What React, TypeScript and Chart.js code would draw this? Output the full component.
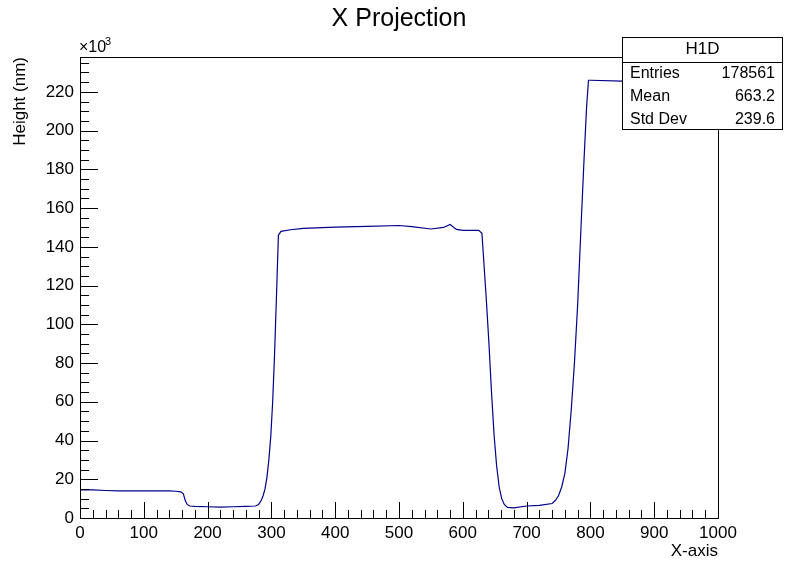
import React, { useEffect, useRef } from "react";
import { Chart, registerables } from "chart.js";
Chart.register(...registerables);

const xs = [0, 20, 40, 60, 100, 140, 150, 158, 162, 165, 168, 172, 180, 200, 220, 240, 260, 275, 280, 284, 287, 290, 293, 296, 299, 302, 305, 308, 311, 315, 330, 350, 400, 450, 500, 520, 550, 570, 580, 590, 600, 625, 630, 633, 637, 641, 645, 649, 653, 657, 661, 665, 670, 680, 700, 720, 740, 745, 750, 755, 760, 765, 770, 775, 780, 785, 790, 794, 797, 800, 850, 900, 1000];
const ys = [14.5, 14.5, 14.2, 14, 14, 14, 13.8, 13.5, 12.5, 9, 7, 6.2, 6, 5.8, 5.6, 5.8, 6, 6.2, 7, 9, 11.5, 15, 21, 30, 42, 60, 85, 115, 146, 148, 148.8, 149.5, 150.2, 150.6, 151, 150.4, 149.2, 150, 151.5, 149, 148.5, 148.5, 147, 132, 112, 90, 65, 43, 27, 16, 10, 7, 5.5, 5.2, 6.2, 6.5, 7.5, 9, 11.5, 16, 23, 36, 56, 80, 110, 148, 185, 212, 226, 226, 225.5, 225.3, 225];
const xTicks = [0, 100, 200, 300, 400, 500, 600, 700, 800, 900, 1000];
const yTicks = [0, 20, 40, 60, 80, 100, 120, 140, 160, 180, 200, 220];
const statsLabels = ["Entries", "Mean", "Std Dev"];
const statsValues = ["178561", "663.2", "239.6"];

const FONT = "'Liberation Sans', Arial, sans-serif";

export default function App() {
  const ref = useRef<HTMLCanvasElement>(null);
  useEffect(() => {
    document.body.style.margin = "0";
    const deco = {
      id: "deco",
      afterDraw(c: any) {
        const ctx = c.ctx as CanvasRenderingContext2D;
        const a = c.chartArea;
        const xs_ = c.scales.x, ys_ = c.scales.y;
        ctx.save();
        ctx.strokeStyle = "#000";
        ctx.lineWidth = 1;
        ctx.strokeRect(Math.round(a.left) + 0.5, Math.round(a.top) + 0.5, Math.round(a.right - a.left), Math.round(a.bottom - a.top));
        ctx.beginPath();
        for (let v = 0; v <= 1000; v += 20) {
          const px = Math.round(xs_.getPixelForValue(v)) + 0.5;
          const len = v % 100 === 0 ? 16 : 8;
          ctx.moveTo(px, a.bottom);
          ctx.lineTo(px, a.bottom - len);
        }
        for (let v = 0; v <= 235; v += 5) {
          const py = Math.round(ys_.getPixelForValue(v)) + 0.5;
          const len = v % 20 === 0 ? 18 : 9;
          ctx.moveTo(a.left, py);
          ctx.lineTo(a.left + len, py);
        }
        ctx.stroke();
        ctx.fillStyle = "#000";
        ctx.font = `25px ${FONT}`;
        ctx.textAlign = "center";
        ctx.textBaseline = "middle";
        ctx.fillText("X Projection", 399, 19);
        ctx.font = `17px ${FONT}`;
        ctx.textAlign = "right";
        ctx.fillText("X-axis", a.right, 551);
        ctx.save();
        ctx.translate(20, a.top);
        ctx.rotate(-Math.PI / 2);
        ctx.textAlign = "right";
        ctx.fillText("Height (nm)", 0, 0);
        ctx.restore();
        ctx.textAlign = "left";
        ctx.font = `16px ${FONT}`;
        ctx.fillText("\u00d710", 79, 48);
        ctx.font = `11px ${FONT}`;
        ctx.fillText("3", 105, 42);
        const bx = 622.5, by = 37.5, bw = 160, bh = 92;
        ctx.fillStyle = "#fff";
        ctx.fillRect(bx, by, bw, bh);
        ctx.strokeRect(bx, by, bw, bh);
        ctx.beginPath();
        ctx.moveTo(bx, 62.5);
        ctx.lineTo(bx + bw, 62.5);
        ctx.stroke();
        ctx.fillStyle = "#000";
        ctx.font = `17px ${FONT}`;
        ctx.textAlign = "center";
        ctx.fillText("H1D", bx + bw / 2, 49);
        ctx.font = `16px ${FONT}`;
        statsLabels.forEach((l, i) => {
          const y = 74 + i * 23;
          ctx.textAlign = "left";
          ctx.fillText(l, 630, y);
          ctx.textAlign = "right";
          ctx.fillText(statsValues[i], 775, y);
        });
        ctx.restore();
      },
    };
    const chart = new Chart(ref.current!, {
      type: "line",
      data: {
        datasets: [{
          data: xs.map((x, i) => ({ x, y: ys[i] })),
          borderColor: "#00008b",
          borderWidth: 1.2,
          pointRadius: 0,
          tension: 0,
        }],
      },
      options: {
        animation: false,
        responsive: false,
        layout: { padding: { top: 57, right: 80, left: 0, bottom: 0 } },
        plugins: { legend: { display: false }, tooltip: { enabled: false } },
        scales: {
          x: {
            type: "linear", min: 0, max: 1000,
            afterBuildTicks: (s: any) => { s.ticks = xTicks.map((v) => ({ value: v })); },
            afterFit: (s: any) => { s.height = 58; },
            grid: { display: false, drawTicks: false },
            border: { display: false },
            ticks: { color: "#000", font: { family: FONT, size: 17 }, padding: 5, maxRotation: 0, autoSkip: false, callback: (v: any) => String(v) },
          },
          y: {
            min: 0, max: 238,
            afterBuildTicks: (s: any) => { s.ticks = yTicks.map((v) => ({ value: v })); },
            afterFit: (s: any) => { s.width = 80; },
            grid: { display: false, drawTicks: false },
            border: { display: false },
            ticks: { color: "#000", font: { family: FONT, size: 17 }, padding: 6, autoSkip: false, callback: (v: any) => String(v) },
          },
        },
      },
      plugins: [deco],
    });
    return () => chart.destroy();
  }, []);
  return <canvas ref={ref} width={798} height={576} style={{ display: "block" }} />;
}
